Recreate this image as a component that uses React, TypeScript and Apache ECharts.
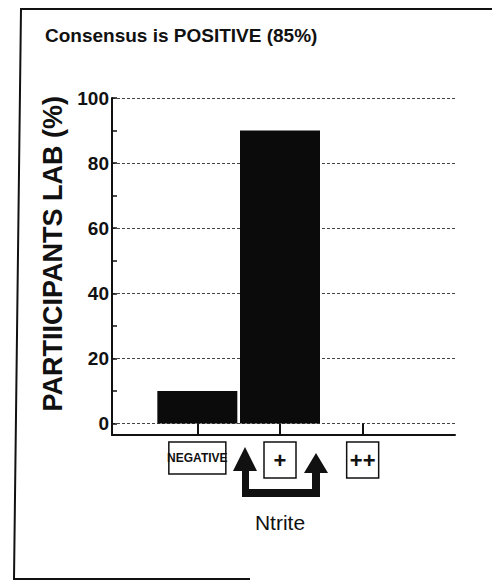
import { useEffect, useRef } from "react";
import * as echarts from "echarts";

const categories = ["NEGATIVE", "+", "++"];
const participantsPct = [10, 90, 0];
const yMin = 0;
const yMax = 100;
const yStep = 20;
const titleText = "Consensus is POSITIVE (85%)";
const yAxisName = "PARTIICIPANTS LAB (%)";
const xAxisName = "Ntrite";

const NARROW = "'Liberation Sans Narrow', 'Arial Narrow', 'Liberation Sans', Arial, sans-serif";
const SANS = "'Liberation Sans', Arial, Helvetica, sans-serif";
const INK = "#111";

export default function App() {
  const ref = useRef<HTMLDivElement>(null);
  useEffect(() => {
    const chart = echarts.init(ref.current!, null, { renderer: "svg" });
    const option = {
      animation: false,
      backgroundColor: "#fff",
      title: {
        text: titleText,
        left: 40,
        top: 21,
        textStyle: { fontFamily: SANS, fontSize: 19, fontWeight: "bold", color: INK },
      },
      grid: [
        { left: 112, right: 37, top: 98, bottom: 158.5 },
        { left: 156, right: 88, top: 98, bottom: 158.5 },
        { left: 112, right: 37, top: 98, bottom: 147 },
      ],
      xAxis: [
        { gridIndex: 0, type: "value", show: false },
        {
          gridIndex: 1,
          type: "category",
          data: categories,
          axisLine: { show: false },
          axisTick: { show: true, inside: false, length: 11.5, alignWithLabel: true, lineStyle: { color: INK, width: 2 } },
          axisLabel: {
            interval: 0,
            margin: 18.5,
            formatter: (v: string) => (v === "NEGATIVE" ? `{neg|${v}}` : `{plus|${v}}`),
            rich: {
              neg: {
                fontFamily: NARROW,
                fontSize: 12,
                fontWeight: "bold",
                color: INK,
                width: 57,
                height: 32,
                lineHeight: 32,
                align: "center",
                borderColor: INK,
                borderWidth: 1.5,
              },
              plus: {
                fontFamily: SANS,
                fontSize: 22,
                fontWeight: "bold",
                color: INK,
                width: 32,
                height: 36,
                lineHeight: 36,
                align: "center",
                borderColor: INK,
                borderWidth: 1.5,
              },
            },
          },
          name: xAxisName,
          nameLocation: "middle",
          nameGap: 88.5,
          nameTextStyle: { fontFamily: NARROW, fontSize: 21, color: INK },
          splitLine: { show: false },
        },
        {
          gridIndex: 2,
          type: "value",
          min: 0,
          max: 1,
          axisLine: { show: true, lineStyle: { color: INK, width: 2 } },
          axisTick: { show: false },
          axisLabel: { show: false },
          splitLine: { show: false },
        },
      ],
      yAxis: [
        {
          gridIndex: 0,
          type: "value",
          min: yMin,
          max: yMax,
          interval: yStep,
          axisLine: { show: false },
          axisTick: { show: true, inside: true, length: 5, lineStyle: { color: INK, width: 1.5 } },
          minorTick: { show: true, splitNumber: 2, length: 5, lineStyle: { color: INK, width: 1.5 } },
          splitLine: { show: true, lineStyle: { color: "#444", width: 1, type: [3, 2] } },
          axisLabel: { fontFamily: NARROW, fontSize: 19, fontWeight: "bold", color: INK, margin: 3 },
          name: yAxisName,
          nameLocation: "middle",
          nameGap: 44,
          nameTextStyle: { fontFamily: SANS, fontSize: 27, fontWeight: "bold", color: INK, padding: [0, 0, 0, 14] },
        },
        { gridIndex: 1, type: "value", min: yMin, max: yMax, show: false },
        {
          gridIndex: 2,
          type: "value",
          min: 0,
          max: 1,
          axisLine: { show: true, lineStyle: { color: INK, width: 2 } },
          axisTick: { show: false },
          axisLabel: { show: false },
          splitLine: { show: false },
        },
      ],
      series: [
        {
          type: "bar",
          xAxisIndex: 1,
          yAxisIndex: 1,
          data: participantsPct,
          barWidth: 80,
          itemStyle: { color: "#0b0b0b" },
        },
      ],
      graphic: [
        {
          type: "polyline",
          silent: true,
          shape: { points: [[495, 9], [21, 9], [14, 579], [250, 579]] },
          style: { stroke: INK, lineWidth: 2, fill: null },
        },
        {
          type: "polygon",
          silent: true,
          shape: {
            points: [
              [245, 447], [257, 471], [249, 471], [249, 489], [312, 489], [312, 473],
              [304, 473], [316, 453], [328, 473], [320, 473], [320, 497], [242, 497],
              [242, 471], [233, 471],
            ],
          },
          style: { fill: INK },
        },
      ],
    };
    chart.setOption(option as any);
    return () => chart.dispose();
  }, []);
  return (
    <div
      ref={ref}
      style={{ position: "fixed", left: 0, top: 0, width: 492, height: 582 }}
    />
  );
}
